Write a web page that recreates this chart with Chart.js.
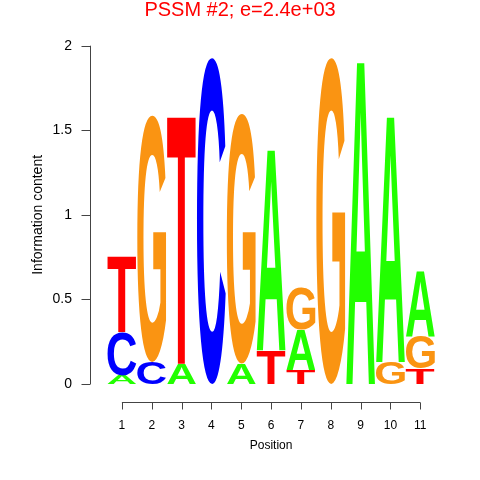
<!DOCTYPE html>
<html>
<head>
<meta charset="utf-8">
<script src="https://cdn.jsdelivr.net/npm/chart.js@4/dist/chart.umd.min.js"></script>
<style>
  body { margin: 0; background: #fff; }
  canvas { display: block; }
</style>
</head>
<body>
<canvas id="logo" width="480" height="480"></canvas>
<script>
// positions along the motif
var positions = [1, 2, 3, 4, 5, 6, 7, 8, 9, 10, 11];

// information content (bits) per letter at each position
var heightA = [0.05, 0, 0.12, 0, 0.12, 1.20, 0.24, 0, 1.93, 1.47, 0.39];
var heightC = [0.26, 0.13, 0, 1.93, 0, 0, 0, 0, 0, 0, 0];
var heightG = [0, 1.46, 0, 0, 1.48, 0, 0.25, 1.93, 0, 0.13, 0.19];
var heightT = [0.45, 0, 1.48, 0, 0, 0.20, 0.08, 0, 0, 0, 0.09];

var yTicks = [0, 0.5, 1, 1.5, 2];

var letterColors = { A: "#22ff00", C: "#0000ff", G: "#fa9412", T: "#ff0000" };
var fontFamily = "'Liberation Sans', Arial, sans-serif";

Chart.defaults.color = "#000";
Chart.defaults.font.family = fontFamily;

function makeDataset(letter, values) {
  return {
    label: letter,
    data: positions.map(function (p, i) { return { x: p, y: values[i] }; }),
    pointRadius: 0,
    showLine: false,
  };
}

// draw a glyph stretched to fill a box
function drawLetter(ctx, letter, x0, yTop, w, h, color) {
  if (h <= 0.5) return;
  ctx.save();
  ctx.font = "bold 100px " + fontFamily;
  ctx.textAlign = "left";
  ctx.textBaseline = "alphabetic";
  var m = ctx.measureText(letter);
  var iw = m.actualBoundingBoxLeft + m.actualBoundingBoxRight;
  var ih = m.actualBoundingBoxAscent + m.actualBoundingBoxDescent;
  ctx.translate(x0, yTop);
  ctx.scale(w / iw, h / ih);
  ctx.fillStyle = color;
  ctx.fillText(letter, m.actualBoundingBoxLeft, m.actualBoundingBoxAscent);
  ctx.restore();
}

var logoPlugin = {
  id: "logo",
  afterDatasetsDraw: function (chart) {
    var ctx = chart.ctx;
    var xs = chart.scales.x;
    var ys = chart.scales.y;
    var colW = xs.getPixelForValue(2) - xs.getPixelForValue(1);
    positions.forEach(function (p, i) {
      var stack = [
        { l: "A", v: heightA[i] },
        { l: "C", v: heightC[i] },
        { l: "G", v: heightG[i] },
        { l: "T", v: heightT[i] },
      ].sort(function (a, b) { return a.v - b.v; });
      var base = 0;
      var w = colW * 0.97;
      var x0 = xs.getPixelForValue(p) - w / 2;
      stack.forEach(function (s) {
        var yb = ys.getPixelForValue(base);
        var yt = ys.getPixelForValue(base + s.v);
        drawLetter(ctx, s.l, x0, yt, w, yb - yt, letterColors[s.l]);
        base += s.v;
      });
    });

    // R style axes
    ctx.save();
    ctx.strokeStyle = "#444";
    ctx.lineWidth = 1;
    var ax = Math.round(chart.chartArea.left) + 0.5;
    ctx.beginPath();
    ctx.moveTo(ax, ys.getPixelForValue(0));
    ctx.lineTo(ax, ys.getPixelForValue(2));
    yTicks.forEach(function (t) {
      var y = Math.round(ys.getPixelForValue(t)) + 0.5;
      ctx.moveTo(ax, y);
      ctx.lineTo(ax - 9, y);
    });
    var ay = Math.round(chart.chartArea.bottom + 18) + 0.5;
    var xFirst = xs.getPixelForValue(positions[0]);
    var xLast = xs.getPixelForValue(positions[positions.length - 1]);
    ctx.moveTo(xFirst, ay);
    ctx.lineTo(xLast, ay);
    positions.forEach(function (p) {
      var x = Math.round(xs.getPixelForValue(p)) + 0.5;
      ctx.moveTo(x, ay);
      ctx.lineTo(x, ay + 7);
    });
    ctx.stroke();

    // x axis title, centred under the axis line
    ctx.fillStyle = "#000";
    ctx.font = "12px " + fontFamily;
    ctx.textAlign = "center";
    ctx.textBaseline = "middle";
    ctx.fillText("Position", (xFirst + xLast) / 2, chart.chartArea.bottom + 62);
    ctx.restore();
  },
};

new Chart(document.getElementById("logo"), {
  type: "scatter",
  data: {
    datasets: [
      makeDataset("A", heightA),
      makeDataset("C", heightC),
      makeDataset("G", heightG),
      makeDataset("T", heightT),
    ],
  },
  options: {
    responsive: false,
    animation: false,
    layout: { padding: { left: 0, right: 0, top: 0, bottom: 13.6 } },
    plugins: {
      legend: { display: false },
      tooltip: { enabled: false },
      title: {
        display: true,
        text: "PSSM #2; e=2.4e+03",
        color: "#ff0000",
        font: { size: 20, weight: "normal" },
        padding: { top: -2, bottom: 23.7 },
      },
    },
    scales: {
      x: {
        type: "linear",
        min: -0.07,
        max: 13.0,
        grid: { display: false, drawTicks: false },
        border: { display: false },
        afterBuildTicks: function (scale) {
          scale.ticks = positions.map(function (p) { return { value: p }; });
        },
        ticks: { padding: 34, font: { size: 12 }, maxRotation: 0, autoSkip: false },
      },
      y: {
        type: "linear",
        min: 0,
        max: 2,
        grid: { display: false, drawTicks: false },
        border: { display: false },
        afterBuildTicks: function (scale) {
          scale.ticks = yTicks.map(function (t) { return { value: t }; });
        },
        ticks: {
          padding: 18,
          font: { size: 14 },
          callback: function (v) { return String(v); },
        },
        title: { display: true, text: "Information content", font: { size: 14 }, padding: { top: 30, bottom: -12.3 } },
      },
    },
  },
  plugins: [logoPlugin],
});
</script>
</body>
</html>
